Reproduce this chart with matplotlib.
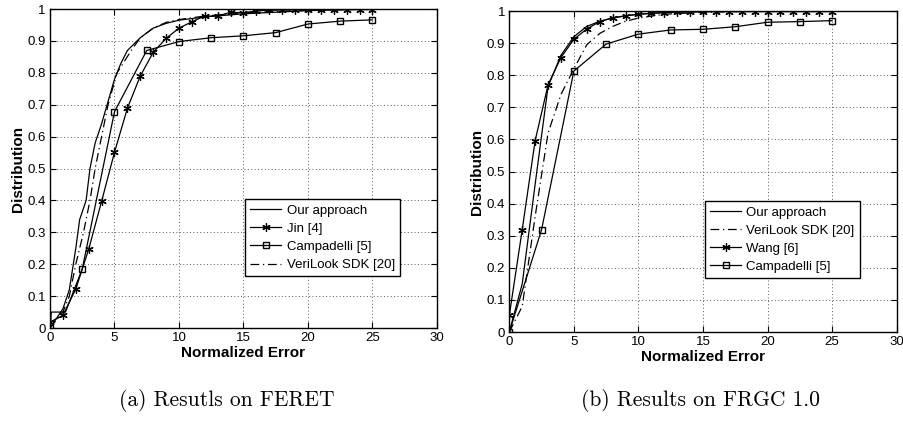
import matplotlib
matplotlib.use("Agg")
import matplotlib.pyplot as plt

plt.rcParams['font.family'] = ['Liberation Sans', 'DejaVu Sans']

# ---- (a) FERET ----
feret_ours_x = [0, 0.5, 1, 1.5, 2, 2.3, 2.8, 3.1, 3.5, 4, 4.5, 5, 5.5, 6, 7, 8, 9, 10, 12, 15, 20, 25, 30]
feret_ours_y = [0.0, 0.03, 0.06, 0.12, 0.25, 0.34, 0.40, 0.50, 0.58, 0.64, 0.71, 0.78, 0.83, 0.87, 0.91, 0.94, 0.955, 0.965, 0.975, 0.985, 0.995, 1.0, 1.0]

feret_jin_x = list(range(0, 26))
feret_jin_y = [0.018, 0.04, 0.122, 0.247, 0.397, 0.551, 0.689, 0.79, 0.864, 0.908, 0.94, 0.96,
               0.978, 0.978, 0.99, 0.988, 0.994, 0.996, 0.997, 0.997, 0.998, 0.998, 0.998, 0.998, 0.998, 0.998]

feret_camp_x = [0, 0.1, 1.2, 2.5, 5, 7.5, 10, 12.5, 15, 17.5, 20, 22.5, 25]
feret_camp_y = [0.0, 0.05, 0.05, 0.185, 0.678, 0.87, 0.898, 0.91, 0.916, 0.926, 0.953, 0.962, 0.966]
feret_camp_marks = [0, 3, 4, 5, 6, 7, 8, 9, 10, 11, 12]

feret_veri_x = [0, 1, 1.5, 2, 2.6, 3.1, 3.5, 4, 4.5, 5.2, 6.3, 7, 8, 9, 10, 12, 15, 20, 25, 30]
feret_veri_y = [0.0, 0.05, 0.1, 0.2, 0.3, 0.4, 0.5, 0.6, 0.7, 0.8, 0.87, 0.91, 0.94, 0.958, 0.967, 0.978, 0.988, 0.996, 1.0, 1.0]

# ---- (b) FRGC 1.0 ----
frgc_ours_x = [0, 1, 2, 3, 4, 5, 6, 7, 8, 9, 10, 12, 15, 20, 30]
frgc_ours_y = [0.0, 0.15, 0.46, 0.765, 0.862, 0.92, 0.952, 0.968, 0.978, 0.985, 0.99, 0.995, 0.998, 1.0, 1.0]

frgc_veri_x = [0, 1, 2, 3, 4, 5, 6, 7, 8, 9, 10, 12, 15, 20, 30]
frgc_veri_y = [0.0, 0.08, 0.36, 0.62, 0.74, 0.82, 0.895, 0.93, 0.952, 0.968, 0.978, 0.99, 0.996, 1.0, 1.0]

frgc_wang_x = list(range(0, 26))
frgc_wang_y = [0.052, 0.319, 0.596, 0.77, 0.855, 0.912, 0.944, 0.967, 0.979, 0.985, 0.99, 0.993,
               0.995, 0.998, 0.998, 0.998, 0.998, 0.998, 0.998, 0.998, 0.998, 0.998, 0.998, 0.998, 0.998, 0.998]

frgc_camp_x = [0, 2.5, 5, 7.5, 10, 12.5, 15, 17.5, 20, 22.5, 25]
frgc_camp_y = [0.0, 0.319, 0.813, 0.897, 0.928, 0.941, 0.943, 0.951, 0.965, 0.967, 0.970]

xticks = [0, 5, 10, 15, 20, 25, 30]
yticks = [0, 0.1, 0.2, 0.3, 0.4, 0.5, 0.6, 0.7, 0.8, 0.9, 1]
ytick_labels = ['0', '0.1', '0.2', '0.3', '0.4', '0.5', '0.6', '0.7', '0.8', '0.9', '1']

fig = plt.figure(figsize=(9.04, 4.25), dpi=100)
ax1 = fig.add_axes([0.0553, 0.2282, 0.4281, 0.7506])
ax2 = fig.add_axes([0.5634, 0.2188, 0.4285, 0.7553])

lw = 0.9
star = (6, 2, 0)   # matlab-like asterisk
dashdot = (7, 3, 1, 3)


def style_axes(ax):
    ax.set_xlim(0, 30)
    ax.set_ylim(0, 1)
    ax.set_xticks(xticks)
    ax.set_yticks(yticks)
    ax.set_yticklabels(ytick_labels)
    ax.tick_params(direction='in', labelsize=9.5, length=4, top=True, right=True, pad=3)
    ax.grid(True, linestyle=(0, (1, 2.5)), color='0.35', linewidth=0.7)
    for s in ax.spines.values():
        s.set_linewidth(1.0)
    ax.set_xlabel('Normalized Error', fontsize=11, fontweight='bold', labelpad=1)
    ax.set_ylabel('Distribution', fontsize=11, fontweight='bold', labelpad=2)


def add_legend(ax, x0, y0):
    leg = ax.legend(loc='upper left', bbox_to_anchor=(x0, y0), fontsize=9.5, frameon=True,
                    fancybox=False, edgecolor='black', framealpha=1, handlelength=2.35,
                    handletextpad=0.4, borderpad=0.4, borderaxespad=0, labelspacing=0.45)
    leg.get_frame().set_linewidth(1.0)


# left panel
ax1.plot(feret_ours_x, feret_ours_y, '-', color='black', lw=lw, label='Our approach')
ax1.plot(feret_jin_x, feret_jin_y, '-', marker=star, color='black', lw=lw, ms=6, mew=0.9, label='Jin [4]')
ax1.plot(feret_camp_x, feret_camp_y, '-', marker='s', mfc='none', color='black', lw=lw, ms=4.2,
         markevery=feret_camp_marks, label='Campadelli [5]')
ax1.plot(feret_veri_x, feret_veri_y, '--', dashes=dashdot, color='black', lw=lw, label='VeriLook SDK [20]')
style_axes(ax1)
add_legend(ax1, 0.504, 0.404)

# right panel
ax2.plot(frgc_ours_x, frgc_ours_y, '-', color='black', lw=lw, label='Our approach')
ax2.plot(frgc_veri_x, frgc_veri_y, '--', dashes=dashdot, color='black', lw=lw, label='VeriLook SDK [20]')
ax2.plot(frgc_wang_x, frgc_wang_y, '-', marker=star, color='black', lw=lw, ms=6, mew=0.9, label='Wang [6]')
ax2.plot(frgc_camp_x, frgc_camp_y, '-', marker='s', mfc='none', color='black', lw=lw, ms=4.2, label='Campadelli [5]')
style_axes(ax2)
add_legend(ax2, 0.505, 0.408)

# captions
fig.text(227 / 904, 1 - 400 / 425, '(a) Resutls on FERET', ha='center', va='center',
         fontsize=15.5, family=['cmr10', 'DejaVu Serif'])
fig.text(701 / 904, 1 - 400 / 425, '(b) Results on FRGC 1.0', ha='center', va='center',
         fontsize=15.5, family=['cmr10', 'DejaVu Serif'])

fig.savefig('out.png', dpi=100)
